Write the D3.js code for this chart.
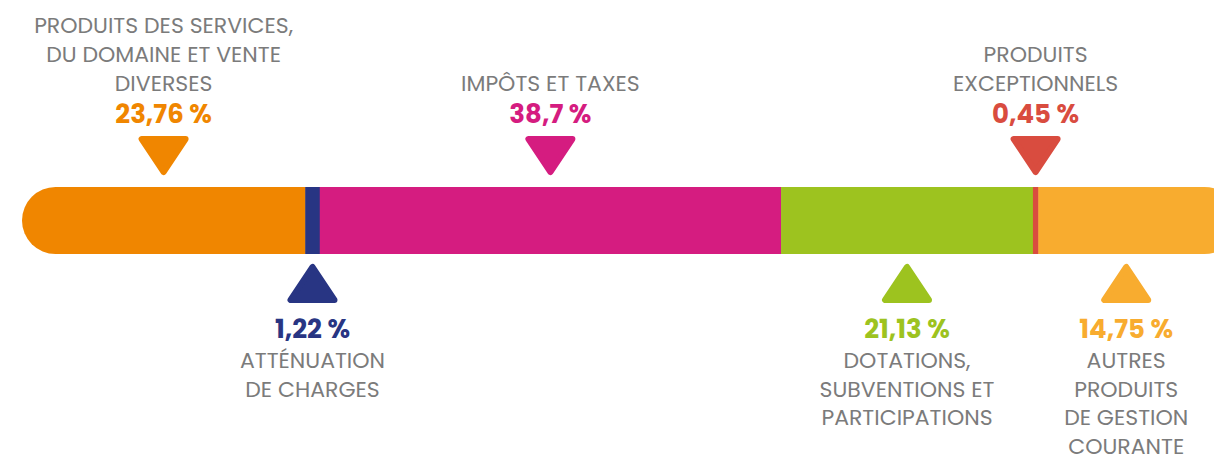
<!DOCTYPE html>
<html>
<head>
<meta charset="utf-8">
<script src="https://cdn.jsdelivr.net/npm/d3@7"></script>
<style>
  html, body { margin: 0; padding: 0; background: #ffffff; }
  svg { display: block; }
</style>
</head>
<body>
<div id="chart"></div>
<script>
// ---- data ----
const categories = [
  "Produits des services, du domaine et vente diverses",
  "Atténuation de charges",
  "Impôts et taxes",
  "Dotations, subventions et participations",
  "Produits exceptionnels",
  "Autres produits de gestion courante"
];
const labelLines = [
  ["PRODUITS DES SERVICES,", "DU DOMAINE ET VENTE", "DIVERSES"],
  ["ATTÉNUATION", "DE CHARGES"],
  ["IMPÔTS ET TAXES"],
  ["DOTATIONS,", "SUBVENTIONS ET", "PARTICIPATIONS"],
  ["PRODUITS", "EXCEPTIONNELS"],
  ["AUTRES", "PRODUITS", "DE GESTION", "COURANTE"]
];
const values = [23.76, 1.22, 38.7, 21.13, 0.45, 14.75];
const valueLabels = ["23,76 %", "1,22 %", "38,7 %", "21,13 %", "0,45 %", "14,75 %"];
const colors = ["#F08600", "#283583", "#D51C80", "#9DC31F", "#D94C3F", "#F8AC2F"];

// ---- layout ----
const W = 1214, H = 455;
const barTop = 187, barH = 67;
const capExtra = 24; // rounded end of the bar runs past the page edge
const font = "Poppins, 'Open Sans', sans-serif";
const grey = "#7b7b7b";

const svg = d3.select("#chart").append("svg").attr("width", W).attr("height", H);

const x = d3.scaleLinear().domain([0, 100]).range([22, 1214]);

let cum = 0;
const segs = values.map((v, i) => {
  const s = { i, start: cum, end: cum + v, v };
  cum += v;
  return s;
});
const last = segs.length - 1;

// clip for rounded bar
svg.append("clipPath").attr("id", "barclip")
  .append("rect")
  .attr("x", x(0)).attr("y", barTop)
  .attr("width", x(100) - x(0) + capExtra).attr("height", barH)
  .attr("rx", barH / 2).attr("ry", barH / 2);

svg.append("g").attr("clip-path", "url(#barclip)")
  .selectAll("rect").data(segs).join("rect")
  .attr("x", d => x(d.start))
  .attr("y", barTop)
  .attr("width", d => x(d.end) - x(d.start) + (d.i === last ? capExtra : 0.5))
  .attr("height", barH)
  .attr("fill", d => colors[d.i]);

// markers & labels
const lineH = 29;
segs.forEach(d => {
  const cx = x((d.start + d.end) / 2);
  const top = d.i % 2 === 0;
  const col = colors[d.i];
  const g = svg.append("g");
  if (top) {
    g.append("path")
      .attr("d", `M${cx - 22},139 L${cx + 22},139 L${cx},172 Z`)
      .attr("fill", col).attr("stroke", col)
      .attr("stroke-width", 6).attr("stroke-linejoin", "round");
    g.append("text")
      .attr("x", cx).attr("y", 123)
      .attr("text-anchor", "middle")
      .attr("font-family", font).attr("font-weight", 700)
      .attr("font-size", 26).attr("fill", col)
      .text(valueLabels[d.i]);
    const lines = labelLines[d.i];
    lines.forEach((ln, k) => {
      g.append("text")
        .attr("x", cx)
        .attr("y", 91 - (lines.length - 1 - k) * lineH)
        .attr("text-anchor", "middle")
        .attr("font-family", font).attr("font-size", 22)
        .attr("fill", grey)
        .text(ln);
    });
  } else {
    g.append("path")
      .attr("d", `M${cx - 22},300 L${cx + 22},300 L${cx},267 Z`)
      .attr("fill", col).attr("stroke", col)
      .attr("stroke-width", 6).attr("stroke-linejoin", "round");
    g.append("text")
      .attr("x", cx).attr("y", 338)
      .attr("text-anchor", "middle")
      .attr("font-family", font).attr("font-weight", 700)
      .attr("font-size", 26).attr("fill", col)
      .text(valueLabels[d.i]);
    labelLines[d.i].forEach((ln, k) => {
      g.append("text")
        .attr("x", cx)
        .attr("y", 368 + k * 28.6)
        .attr("text-anchor", "middle")
        .attr("font-family", font).attr("font-size", 22)
        .attr("fill", grey)
        .text(ln);
    });
  }
});
</script>
</body>
</html>
